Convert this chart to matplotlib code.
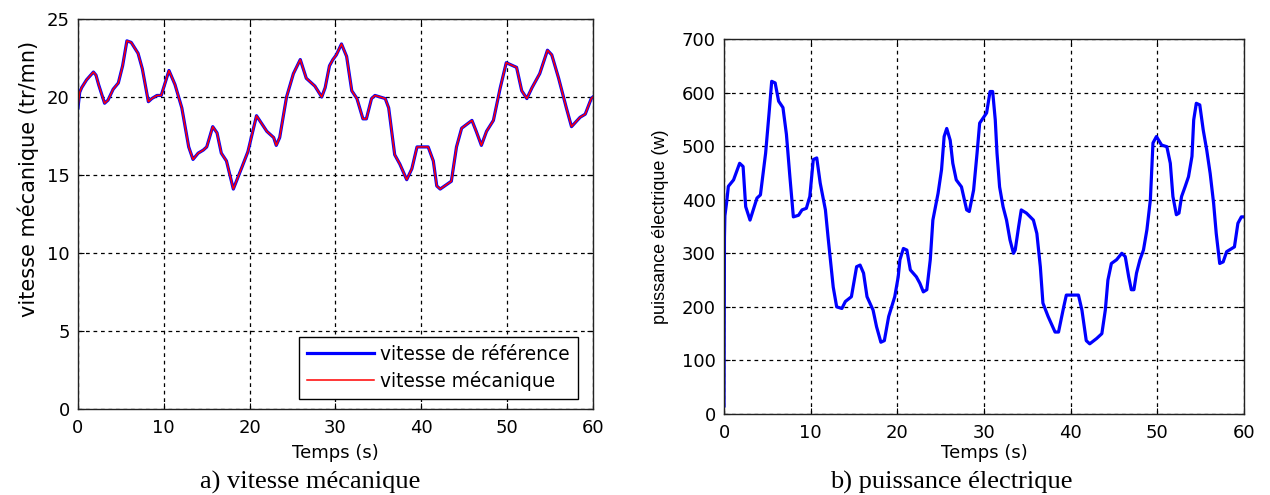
import matplotlib.pyplot as plt

# data
temps_vitesse = [0, 0.2, 0.43, 1.0, 1.8, 2.1, 2.4, 3.1, 3.5, 4.1,
                 4.7, 5.2, 5.7, 6.2, 7.0, 7.5, 8.2, 8.6, 9.2, 9.7,
                 10.6, 11.3, 12.1, 12.9, 13.4, 14.0, 14.6, 15.0, 15.7, 16.2,
                 16.7, 17.3, 18.1, 19.1, 19.8, 20.8, 21.4, 22.0, 22.8, 23.1,
                 23.5, 24.3, 25.1, 25.9, 26.6, 27.6, 28.4, 28.8, 29.3, 29.7,
                 30.1, 30.7, 31.3, 31.9, 32.5, 33.2, 33.6, 34.2, 34.6, 35.8,
                 36.2, 36.9, 37.5, 38.3, 38.9, 39.5, 40.0, 40.8, 41.4, 41.8,
                 42.2, 43.5, 44.1, 44.7, 45.9, 46.4, 47.0, 47.6, 48.4, 49.2,
                 49.9, 51.1, 51.7, 52.3, 52.9, 53.8, 54.7, 55.2, 56.0, 56.9,
                 57.5, 58.5, 59.1, 59.8, 60]
vitesse_ref = [19.3, 20.3, 20.6, 21.1, 21.6, 21.4, 20.8, 19.6, 19.8, 20.5,
               20.9, 22.0, 23.6, 23.5, 22.8, 21.8, 19.7, 19.9, 20.1, 20.1,
               21.7, 20.8, 19.3, 16.8, 16.0, 16.4, 16.6, 16.8, 18.1, 17.7,
               16.4, 15.9, 14.1, 15.5, 16.5, 18.8, 18.3, 17.8, 17.4, 16.9,
               17.4, 20.0, 21.5, 22.4, 21.2, 20.7, 20.0, 20.6, 22.0, 22.4,
               22.7, 23.4, 22.6, 20.4, 19.9, 18.6, 18.6, 19.9, 20.1, 19.9,
               19.3, 16.3, 15.7, 14.7, 15.4, 16.8, 16.8, 16.8, 15.9, 14.3,
               14.1, 14.6, 16.8, 18.0, 18.5, 17.8, 16.9, 17.8, 18.5, 20.6,
               22.2, 21.9, 20.4, 19.9, 20.6, 21.5, 23.0, 22.7, 21.2, 19.3,
               18.1, 18.7, 18.9, 19.9, 20.0]
# mechanical speed follows the reference, but starts from 0
temps_mec = [0.0] + temps_vitesse
vitesse_mec = [0.0] + vitesse_ref

temps_puissance = [0, 0.05, 0.1, 0.3, 0.5, 1.1, 1.8, 2.2, 2.5, 3.0,
                   3.8, 4.2, 4.8, 5.2, 5.5, 5.9, 6.3, 6.8, 7.2, 7.6,
                   8.0, 8.6, 9.0, 9.5, 9.9, 10.3, 10.7, 11.1, 11.7, 12.0,
                   12.6, 13.0, 13.6, 14.0, 14.7, 15.3, 15.7, 16.1, 16.5, 17.2,
                   17.6, 18.1, 18.5, 19.0, 19.7, 20.1, 20.3, 20.7, 21.1, 21.5,
                   22.2, 22.6, 23.0, 23.4, 23.8, 24.1, 24.7, 25.1, 25.4, 25.7,
                   26.1, 26.4, 26.8, 27.4, 28.0, 28.3, 28.8, 29.2, 29.5, 30.3,
                   30.7, 31.0, 31.3, 31.5, 31.8, 32.2, 32.6, 33.0, 33.4, 33.6,
                   34.0, 34.3, 34.9, 35.7, 36.1, 36.5, 36.8, 37.4, 38.2, 38.6,
                   39.2, 39.5, 40.3, 40.9, 41.3, 41.8, 42.2, 43.0, 43.6, 44.0,
                   44.3, 44.7, 45.3, 45.9, 46.3, 46.7, 47.0, 47.3, 47.6, 48.0,
                   48.4, 48.8, 49.2, 49.5, 49.9, 50.5, 51.1, 51.5, 51.8, 52.2,
                   52.5, 52.8, 53.2, 53.6, 54.0, 54.2, 54.5, 54.9, 55.3, 55.7,
                   56.1, 56.5, 56.8, 57.2, 57.6, 58.0, 58.9, 59.3, 59.7, 60]
puissance = [15, 330, 370, 395, 425, 437, 468, 462, 387, 362,
             403, 409, 487, 562, 621, 618, 584, 572, 522, 443,
             368, 371, 381, 384, 406, 475, 478, 431, 381, 331,
             237, 200, 197, 210, 219, 275, 278, 263, 219, 194,
             163, 134, 137, 182, 219, 256, 288, 309, 306, 269,
             256, 244, 228, 232, 288, 362, 412, 456, 518, 533,
             511, 468, 437, 424, 381, 378, 418, 487, 543, 562,
             602, 602, 549, 487, 424, 387, 362, 325, 300, 306,
             350, 381, 375, 362, 337, 275, 207, 182, 153, 153,
             200, 222, 222, 222, 194, 137, 131, 141, 150, 194,
             250, 281, 288, 300, 294, 256, 232, 232, 263, 288,
             306, 344, 400, 506, 518, 502, 499, 468, 406, 372,
             375, 406, 424, 443, 481, 549, 580, 577, 530, 493,
             449, 393, 337, 281, 284, 303, 312, 356, 368, 368]

# the original is a stretched matlab export: horizontal text is wide -> DejaVu Sans
plt.rcParams['font.family'] = ['DejaVu Sans']
plt.rcParams['font.size'] = 13
caption_font = ['Liberation Serif', 'DejaVu Serif']

fig = plt.figure(figsize=(12.7, 4.95), dpi=100)
ax1 = fig.add_axes([0.0614, 0.1737, 0.4055, 0.7879])
ax2 = fig.add_axes([0.5701, 0.1636, 0.4094, 0.7576])

grid_style = dict(color='black', linestyle=(0, (3, 3)), linewidth=0.9)

# a) vitesse mecanique
ax1.plot(temps_vitesse, vitesse_ref, color='blue', lw=2.3, label='vitesse de référence')
ax1.plot(temps_mec, vitesse_mec, color='red', lw=1.1, label='vitesse mécanique')
ax1.set_xlim(0, 60)
ax1.set_ylim(0, 25)
ax1.set_xticks(range(0, 61, 10))
ax1.set_yticks(range(0, 26, 5))
ax1.set_xlabel('Temps (s)')
ax1.set_ylabel('vitesse mécanique (tr/mn)', fontsize=15)
ax1.xaxis.set_label_coords(0.5, -0.113)
ax1.xaxis.label.set_va('center')
ax1.yaxis.set_label_coords(-0.097, 0.59)
ax1.yaxis.label.set_va('center')
leg = ax1.legend(loc='lower right', bbox_to_anchor=(0.971, 0.026), fancybox=False,
                 edgecolor='black', framealpha=1, fontsize=13.4, handlelength=3.6,
                 handletextpad=0.3, borderpad=0.45, labelspacing=0.35, borderaxespad=0)
leg.get_frame().set_linewidth(1.0)

# b) puissance electrique
ax2.plot(temps_puissance, puissance, color='blue', lw=2.3)
ax2.set_xlim(0, 60)
ax2.set_ylim(0, 700)
ax2.set_xticks(range(0, 61, 10))
ax2.set_yticks(range(0, 701, 100))
ax2.set_xlabel('Temps (s)')
ax2.set_ylabel('puissance électrique (w)', family=['Liberation Sans', 'DejaVu Sans'],
               fontsize=13)
ax2.xaxis.set_label_coords(0.5, -0.104)
ax2.xaxis.label.set_va('center')
ax2.yaxis.set_label_coords(-0.123, 0.5)
ax2.yaxis.label.set_va('center')

for ax in (ax1, ax2):
    ax.grid(True, **grid_style)
    ax.tick_params(direction='in', top=True, right=True, length=4)
    ax.tick_params(axis='x', pad=7)
    ax.tick_params(axis='y', pad=6)
    for s in ax.spines.values():
        s.set_linewidth(1.0)
        s.set_color('#222222')

fig.text(310 / 1270, 1 - 482 / 495, 'a) vitesse mécanique', ha='center', va='center',
         fontsize=19, family=caption_font)
fig.text(951 / 1270, 1 - 482 / 495, 'b) puissance électrique', ha='center', va='center',
         fontsize=19, family=caption_font)

fig.savefig('out.png', dpi=100)
